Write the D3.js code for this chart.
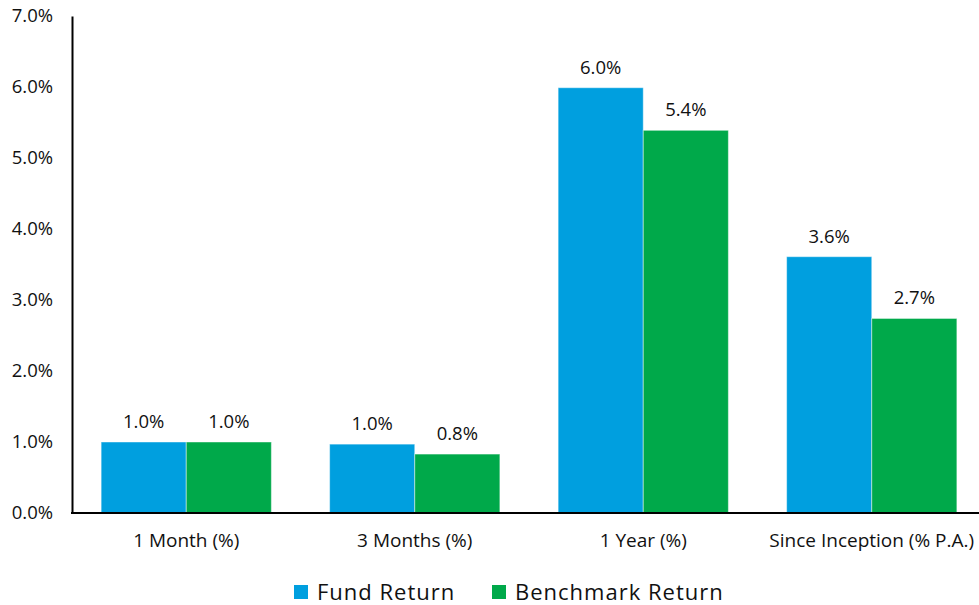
<!DOCTYPE html>
<html>
<head>
<meta charset="utf-8">
<script src="https://cdn.jsdelivr.net/npm/d3@7"></script>
<style>
  body { margin: 0; background: #fff; }
  text { font-family: "Open Sans", "Noto Sans", sans-serif; fill: #111; }
</style>
</head>
<body>
<svg id="chart" width="979" height="605"></svg>
<script>
// ------ data
var categories = ["1 Month (%)", "3 Months (%)", "1 Year (%)", "Since Inception (% P.A.)"];
var seriesNames = ["Fund Return", "Benchmark Return"];
var fundReturn = [1.0, 0.97, 5.99, 3.61];
var benchmarkReturn = [1.0, 0.83, 5.39, 2.74];
var yTicks = [0, 1, 2, 3, 4, 5, 6, 7];
var seriesColors = ["#009fdf", "#00a94a"];

// ------ sizes
var width = 979, height = 605;
var margin = {top: 16, left: 72, bottom: 92};
var plotBottom = height - margin.bottom; // 513

var svg = d3.select("#chart");

var x = d3.scaleBand()
  .domain(categories)
  .range([margin.left, 986])
  .paddingInner(0.255)
  .paddingOuter(0.1275);

var xInner = d3.scaleBand()
  .domain(seriesNames)
  .range([0, x.bandwidth()]);

var y = d3.scaleLinear()
  .domain([0, 7])
  .range([plotBottom, margin.top]);

var fmt = d3.format(".1f");

// rows for bars
var rows = [];
categories.forEach(function(c, i) {
  rows.push({cat: c, series: seriesNames[0], value: fundReturn[i], color: seriesColors[0]});
  rows.push({cat: c, series: seriesNames[1], value: benchmarkReturn[i], color: seriesColors[1]});
});

// bars
svg.append("g").selectAll("rect")
  .data(rows)
  .enter().append("rect")
    .attr("x", d => x(d.cat) + xInner(d.series))
    .attr("y", d => y(d.value))
    .attr("width", xInner.bandwidth())
    .attr("height", d => y(0) - y(d.value))
    .style("fill", d => d.color)
    .style("stroke", "rgba(255,255,255,0.45)")
    .style("stroke-width", 1);

// value labels
svg.append("g").selectAll("text")
  .data(rows)
  .enter().append("text")
    .attr("x", d => x(d.cat) + xInner(d.series) + xInner.bandwidth() / 2)
    .attr("y", d => y(d.value) - 14)
    .attr("text-anchor", "middle")
    .style("font-size", "18.5px")
    .text(d => fmt(d.value) + "%");

// y axis
var yAxis = d3.axisLeft(y)
  .tickValues(yTicks)
  .tickSize(0)
  .tickPadding(19)
  .tickFormat(d => fmt(d) + "%");

var gy = svg.append("g")
  .attr("transform", "translate(" + margin.left + ",0)")
  .call(yAxis);
gy.select(".domain").attr("stroke", "#000").attr("stroke-width", 2);
gy.selectAll(".tick text").style("font-size", "18.5px").attr("fill", "#111");

// x axis
var xAxis = d3.axisBottom(x).tickSize(0).tickPadding(21);
var gx = svg.append("g")
  .attr("transform", "translate(0," + plotBottom + ")")
  .call(xAxis);
gx.select(".domain").remove();
gx.append("line")
  .attr("x1", margin.left - 1).attr("x2", width)
  .attr("y1", 0).attr("y2", 0)
  .attr("stroke", "#000").attr("stroke-width", 2);
gx.selectAll(".tick text").style("font-size", "19px").attr("fill", "#111");

// legend
var legendX = [294, 492];
var legend = svg.append("g").selectAll("g")
  .data(seriesNames)
  .enter().append("g")
    .attr("transform", (d, i) => "translate(" + legendX[i] + ",585)");
legend.append("rect")
  .attr("width", 14).attr("height", 14)
  .style("fill", (d, i) => seriesColors[i]);
legend.append("text")
  .attr("x", 23).attr("y", 15)
  .style("font-size", "22px")
  .style("letter-spacing", "1px")
  .text(d => d);
</script>
</body>
</html>
